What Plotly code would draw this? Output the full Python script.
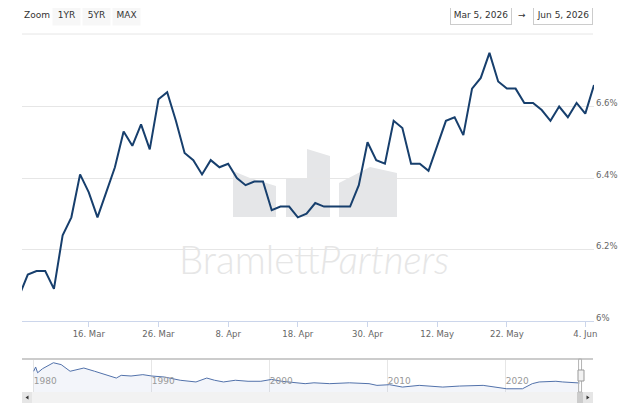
import plotly.graph_objects as go

W, H = 630, 419
OFF = 8  # the page body adds an 8px margin; positions below are page pixels

# daily rate, business days (Good Friday closed)
dates = [
    "2026-03-04", "2026-03-05", "2026-03-06", "2026-03-09", "2026-03-10", "2026-03-11", "2026-03-12", "2026-03-13",
    "2026-03-16", "2026-03-17", "2026-03-18", "2026-03-19", "2026-03-20",
    "2026-03-23", "2026-03-24", "2026-03-25", "2026-03-26", "2026-03-27",
    "2026-03-30", "2026-03-31", "2026-04-01", "2026-04-02",
    "2026-04-06", "2026-04-07", "2026-04-08", "2026-04-09", "2026-04-10",
    "2026-04-13", "2026-04-14", "2026-04-15", "2026-04-16", "2026-04-17",
    "2026-04-20", "2026-04-21", "2026-04-22", "2026-04-23", "2026-04-24",
    "2026-04-27", "2026-04-28", "2026-04-29", "2026-04-30", "2026-05-01",
    "2026-05-04", "2026-05-05", "2026-05-06", "2026-05-07", "2026-05-08",
    "2026-05-11", "2026-05-12", "2026-05-13", "2026-05-14", "2026-05-15",
    "2026-05-18", "2026-05-19", "2026-05-20", "2026-05-21", "2026-05-22",
    "2026-05-25", "2026-05-26", "2026-05-27", "2026-05-28", "2026-05-29",
    "2026-06-01", "2026-06-02", "2026-06-03", "2026-06-04", "2026-06-05",
]
rates = [
    6.07, 6.13, 6.14, 6.14, 6.09, 6.24, 6.29, 6.41,
    6.36, 6.29, 6.36, 6.43, 6.53,
    6.49, 6.55, 6.48, 6.62, 6.64,
    6.56, 6.47, 6.45, 6.41,
    6.45, 6.43, 6.44, 6.40, 6.38,
    6.39, 6.39, 6.31, 6.32, 6.32,
    6.29, 6.30, 6.33, 6.32, 6.32,
    6.32, 6.32, 6.38, 6.50, 6.45,
    6.44, 6.56, 6.54, 6.44, 6.44,
    6.42, 6.49, 6.56, 6.57, 6.52,
    6.65, 6.68, 6.75, 6.67, 6.65,
    6.65, 6.61, 6.61, 6.59, 6.56,
    6.60, 6.57, 6.61, 6.58, 6.66,
]

# 18 Apr is a Saturday (inside the weekend break), so its tick sits at the end of Friday
tick_dates = ["2026-03-16", "2026-03-26", "2026-04-08", "2026-04-17 23:59:59",
              "2026-04-30", "2026-05-12", "2026-05-22", "2026-06-04"]
tick_labels = ["16. Mar", "26. Mar", "8. Apr", "18. Apr",
               "30. Apr", "12. May", "22. May", "4. Jun"]

y_ticks = [6.0, 6.2, 6.4, 6.6]
y_labels = ["6%", "6.2%", "6.4%", "6.6%"]

# long history for the navigator
nav_dates = [
    "1980-01", "1980-03", "1980-05", "1980-10", "1981-09", "1982-05", "1983-02", "1983-06",
    "1984-04", "1985-03", "1986-03", "1987-01", "1987-06", "1988-04", "1989-04", "1990-01",
    "1991-02", "1992-06", "1993-10", "1994-09", "1995-05", "1996-02", "1997-02", "1998-03",
    "1999-04", "2000-03", "2001-01", "2002-02", "2003-01", "2003-10", "2005-02", "2006-10",
    "2008-06", "2009-02", "2010-03", "2011-04", "2012-09", "2014-09", "2016-02", "2018-02",
    "2019-03", "2020-02", "2021-06", "2022-04", "2022-11", "2024-04", "2024-11", "2026-04",
]
nav_rates = [
    13.0, 15.5, 12.1, 14.5, 18.0, 16.9, 13.0, 13.6,
    14.9, 13.0, 10.6, 9.0, 10.6, 10.2, 11.0, 10.2,
    9.6, 7.7, 6.7, 9.0, 7.7, 6.7, 7.7, 7.1,
    7.1, 8.2, 7.1, 6.2, 5.7, 6.2, 5.7, 6.2,
    5.7, 4.7, 5.1, 3.7, 4.7, 3.7, 4.3, 4.7,
    3.7, 2.7, 2.7, 5.7, 6.7, 7.1, 6.7, 6.1,
]
nav_ticks = ["1980-01-01", "1990-01-01", "2000-01-01", "2010-01-01", "2020-01-01"]
nav_labels = ["1980", "1990", "2000", "2010", "2020"]


def fx(x):
    return (x - OFF) / W


def fy(y):
    return 1 - (y - OFF) / H


def poly(points):
    parts = []
    for i, (x, y) in enumerate(points):
        parts.append(("M" if i == 0 else "L") + f"{fx(x):.4f},{fy(y):.4f}")
    return " ".join(parts) + " Z"


FONT = "DejaVu Sans"

fig = go.Figure()
fig.add_trace(go.Scatter(
    x=dates, y=rates, mode="lines",
    line=dict(color="#173f6d", width=2),
    xaxis="x", yaxis="y", hoverinfo="x+y"))
fig.add_trace(go.Scatter(
    x=nav_dates, y=nav_rates, mode="lines",
    line=dict(color="#5272ab", width=1),
    fill="tozeroy", fillcolor="rgba(102,133,194,0.08)",
    xaxis="x2", yaxis="y2", hoverinfo="skip"))

shapes = []
# watermark logo blocks
logo = "#e5e6e8"
for pts in [
    [(233, 171), (250, 178), (276, 186), (276, 217), (233, 217)],
    [(286, 217), (286, 178), (307, 178), (307, 149), (330, 156), (330, 217)],
    [(339, 217), (339, 183), (370, 167), (397, 173), (397, 217)],
]:
    shapes.append(dict(type="path", xref="paper", yref="paper", path=poly(pts),
                       fillcolor=logo, line=dict(width=0), layer="between"))


def hline(x0, x1, y, color, width):
    return dict(type="line", xref="paper", yref="paper", x0=fx(x0), x1=fx(x1), y0=fy(y), y1=fy(y),
                line=dict(color=color, width=width))


def rect(x0, y0, x1, y1, fill, line_color=None):
    return dict(type="rect", xref="paper", yref="paper", x0=fx(x0), x1=fx(x1), y0=fy(y0), y1=fy(y1),
                fillcolor=fill, line=dict(color=line_color or fill, width=1 if line_color else 0))


shapes.append(hline(22, 593, 34, "#e6e6e6", 1))
shapes.append(hline(22, 593, 359, "#cccccc", 2))
# scrollbar
shapes.append(rect(22, 392, 593, 403, "#f2f2f2"))
shapes.append(rect(22, 392, 32, 403, "#e6e6e6"))
shapes.append(rect(583, 392, 593, 403, "#e6e6e6"))
shapes.append(rect(577, 392, 583, 403, "#cccccc"))
shapes.append(dict(type="path", xref="paper", yref="paper", fillcolor="#333333", line=dict(width=0),
                   path=poly([(28.5, 395.5), (25.5, 397.5), (28.5, 399.5)])))
shapes.append(dict(type="path", xref="paper", yref="paper", fillcolor="#333333", line=dict(width=0),
                   path=poly([(586.5, 395.5), (589.5, 397.5), (586.5, 399.5)])))
# navigator selection
shapes.append(dict(type="rect", xref="x2", yref="paper", x0="2026-03-05", x1="2026-06-05",
                   y0=fy(392), y1=fy(359), fillcolor="rgba(0,0,0,0)",
                   line=dict(color="#b3b3b3", width=1)))
shapes.append(rect(578, 370, 584, 381, "#f2f2f2", "#999999"))

annotations = []


def label(text, x, y, size=9, color="#333333", xanchor="center", **kw):
    annotations.append(dict(text=text, x=fx(x), y=fy(y), xref="paper", yref="paper", showarrow=False,
                            xanchor=xanchor, yanchor="middle",
                            font=dict(family=FONT, size=size, color=color), **kw))


label("Zoom", 22, 15, xanchor="left")
for t, cx in [("1YR", 66.5), ("5YR", 96.5), ("MAX", 126.5)]:
    label(t, cx, 15, bgcolor="#f7f7f7", width=25, height=18, borderpad=1)
label("Mar 5, 2026", 481, 15, width=58, height=16, bordercolor="#cccccc", borderwidth=1, bgcolor="white")
label("\u2192", 522, 15)
label("Jun 5, 2026", 563, 15, width=56, height=16, bordercolor="#cccccc", borderwidth=1, bgcolor="white")

annotations.append(dict(text="Bramlett<i>Partners</i>", x=fx(314), y=fy(259), xref="paper", yref="paper",
                        xanchor="center", yanchor="middle", showarrow=False,
                        font=dict(family="Lato", size=38.5, color="#e6e6e6", weight=300)))

tickfont = dict(family=FONT, size=8.5, color="#666666")

fig.update_layout(
    width=W, height=H,
    margin=dict(l=0, r=0, t=0, b=0),
    paper_bgcolor="white", plot_bgcolor="rgba(0,0,0,0)",
    showlegend=False,
    shapes=shapes, annotations=annotations,
    xaxis=dict(
        domain=[fx(22), fx(594)], anchor="y", type="date",
        range=["2026-03-04 08:00", "2026-06-05"],
        rangebreaks=[dict(bounds=["sat", "mon"]), dict(values=["2026-04-03"])],
        tickmode="array", tickvals=tick_dates, ticktext=tick_labels,
        ticks="outside", ticklen=5, tickcolor="#ccd6eb",
        showgrid=False, showline=True, linecolor="#ccd6eb", linewidth=1,
        zeroline=False, tickfont=tickfont, automargin=False,
    ),
    yaxis=dict(
        domain=[fy(321), fy(40)], anchor="x", side="right",
        range=[6.0, 6.786],
        tickmode="array", tickvals=y_ticks, ticktext=y_labels,
        showgrid=True, gridcolor="#e6e6e6", gridwidth=1,
        showline=False, zeroline=False, ticks="",
        tickfont=tickfont, ticklabelshift=-3, ticklabelstandoff=1, automargin=False,
    ),
    xaxis2=dict(
        domain=[fx(22), fx(593)], anchor="y2", type="date",
        range=["1979-01-04", "2027-05-25"],
        tickmode="array", tickvals=nav_ticks, ticktext=nav_labels,
        ticklabelposition="inside right", ticks="",
        showgrid=True, gridcolor="#e6e6e6", showline=False, zeroline=False,
        tickfont=dict(family=FONT, size=9, color="#999999"), automargin=False,
    ),
    yaxis2=dict(
        domain=[fy(392), fy(359)], anchor="x2",
        range=[0.8, 20.2], visible=False, showgrid=False,
    ),
)

fig.write_html("out.html")
